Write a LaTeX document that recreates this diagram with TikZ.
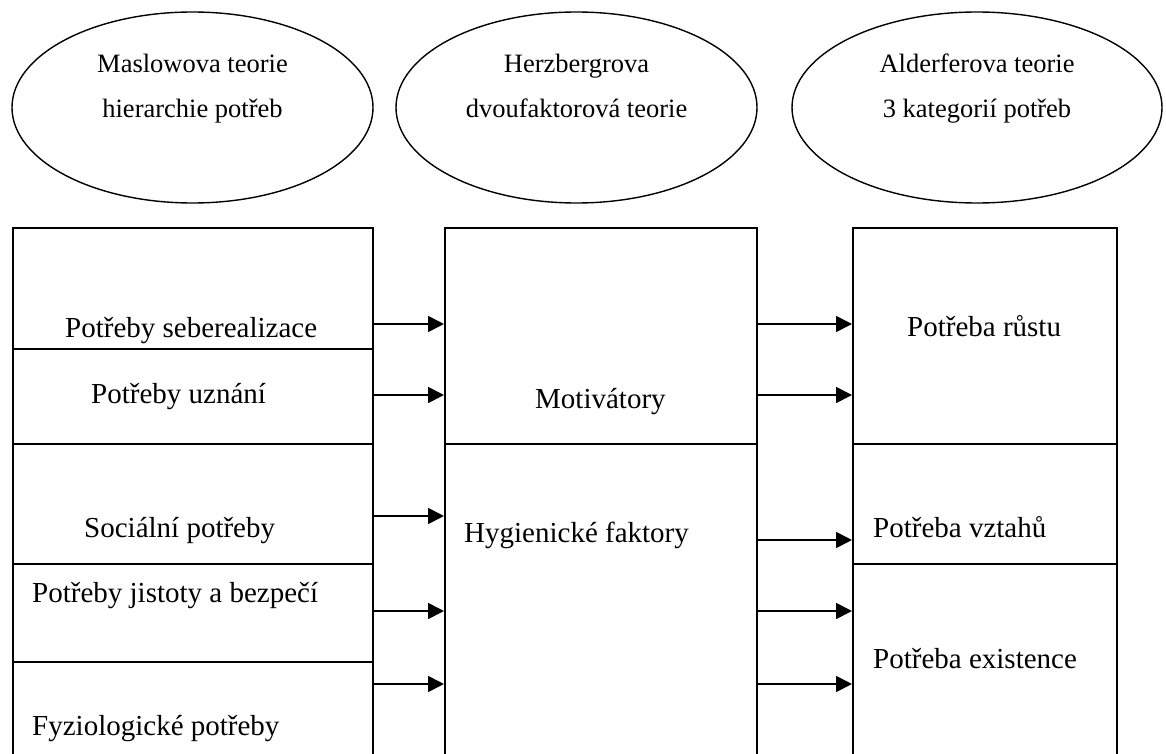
\documentclass[tikz,border=0pt]{standalone}
\usepackage{fontspec}
\setmainfont{Liberation Serif}
\usetikzlibrary{shapes.geometric,arrows.meta}
\begin{document}
\begin{tikzpicture}[x=1pt,y=-1pt,
  ell/.style={draw, ellipse, line width=1.4pt, inner sep=0pt},
  cell/.style={draw, rectangle, line width=1.8pt, inner sep=0pt, anchor=north west},
  lbl/.style={inner sep=0pt, anchor=base west, font=\fontsize{29}{34}\selectfont},
  elbl/.style={inner sep=0pt, anchor=base, font=\fontsize{26.5}{32}\selectfont},
  arr/.style={line width=1.8pt, -{Triangle[length=16pt,width=16pt]}}]
\fill[white] (0,0) rectangle (1166,754);
\useasboundingbox (0,0) rectangle (1166,754);

% ellipses
\node[ell, minimum width=361pt, minimum height=191pt] (E1) at (192.5,107.5) {};
\node[ell, minimum width=361pt, minimum height=191pt] (E2) at (576.5,107.5) {};
\node[ell, minimum width=370pt, minimum height=191pt] (E3) at (977,107.5) {};
\node[elbl] (E1a) at (192.5,73) {Maslowova teorie};
\node[elbl] (E1b) at (192.5,118) {hierarchie potřeb};
\node[elbl] (E2a) at (576.5,73) {Herzbergrova};
\node[elbl] (E2b) at (576.5,118) {dvoufaktorová teorie};
\node[elbl] (E3a) at (977,73) {Alderferova teorie};
\node[elbl] (E3b) at (977,118) {3 kategorií potřeb};

% left column
\node[cell, minimum width=360pt, minimum height=121pt] (L1) at (12,227) {};
\node[cell, minimum width=360pt, minimum height=95pt]  (L2) at (12,348) {};
\node[cell, minimum width=360pt, minimum height=120pt] (L3) at (12,443) {};
\node[cell, minimum width=360pt, minimum height=98pt]  (L4) at (12,563) {};
\node[cell, minimum width=360pt, minimum height=112pt] (L5) at (12,661) {};
% middle column
\node[cell, minimum width=312pt, minimum height=216pt] (M1) at (444,227) {};
\node[cell, minimum width=312pt, minimum height=330pt] (M2) at (444,443) {};
% right column
\node[cell, minimum width=264pt, minimum height=216pt] (R1) at (852,227) {};
\node[cell, minimum width=264pt, minimum height=120pt] (R2) at (852,443) {};
\node[cell, minimum width=264pt, minimum height=210pt] (R3) at (852,563) {};

% labels
\node[lbl] (tL1) at (65,337) {Potřeby seberealizace};
\node[lbl] (tL2) at (91,403) {Potřeby uznání};
\node[lbl] (tL3) at (84,537) {Sociální potřeby};
\node[lbl] (tL4) at (32,602) {Potřeby jistoty a bezpečí};
\node[lbl] (tL5) at (32,735) {Fyziologické potřeby};
\node[lbl] (tM1) at (535,408) {Motivátory};
\node[lbl] (tM2) at (464,542) {Hygienické faktory};
\node[lbl] (tR1) at (907,336) {Potřeba růstu};
\node[lbl] (tR2) at (873,537) {Potřeba vztahů};
\node[lbl] (tR3) at (873,668) {Potřeba existence};

% arrow levels
\coordinate (a1) at (0,324);
\coordinate (a2) at (0,395);
\coordinate (a3) at (0,516);
\coordinate (a4) at (0,611);
\coordinate (a5) at (0,684);
\coordinate (b3) at (0,540);

\draw[arr] (L1.east |- a1) -- (M1.west |- a1);
\draw[arr] (L2.east |- a2) -- (M1.west |- a2);
\draw[arr] (L3.east |- a3) -- (M2.west |- a3);
\draw[arr] (L4.east |- a4) -- (M2.west |- a4);
\draw[arr] (L5.east |- a5) -- (M2.west |- a5);

\draw[arr] (M1.east |- a1) -- (R1.west |- a1);
\draw[arr] (M1.east |- a2) -- (R1.west |- a2);
\draw[arr] (M2.east |- b3) -- (R2.west |- b3);
\draw[arr] (M2.east |- a4) -- (R3.west |- a4);
\draw[arr] (M2.east |- a5) -- (R3.west |- a5);
\end{tikzpicture}
\end{document}
